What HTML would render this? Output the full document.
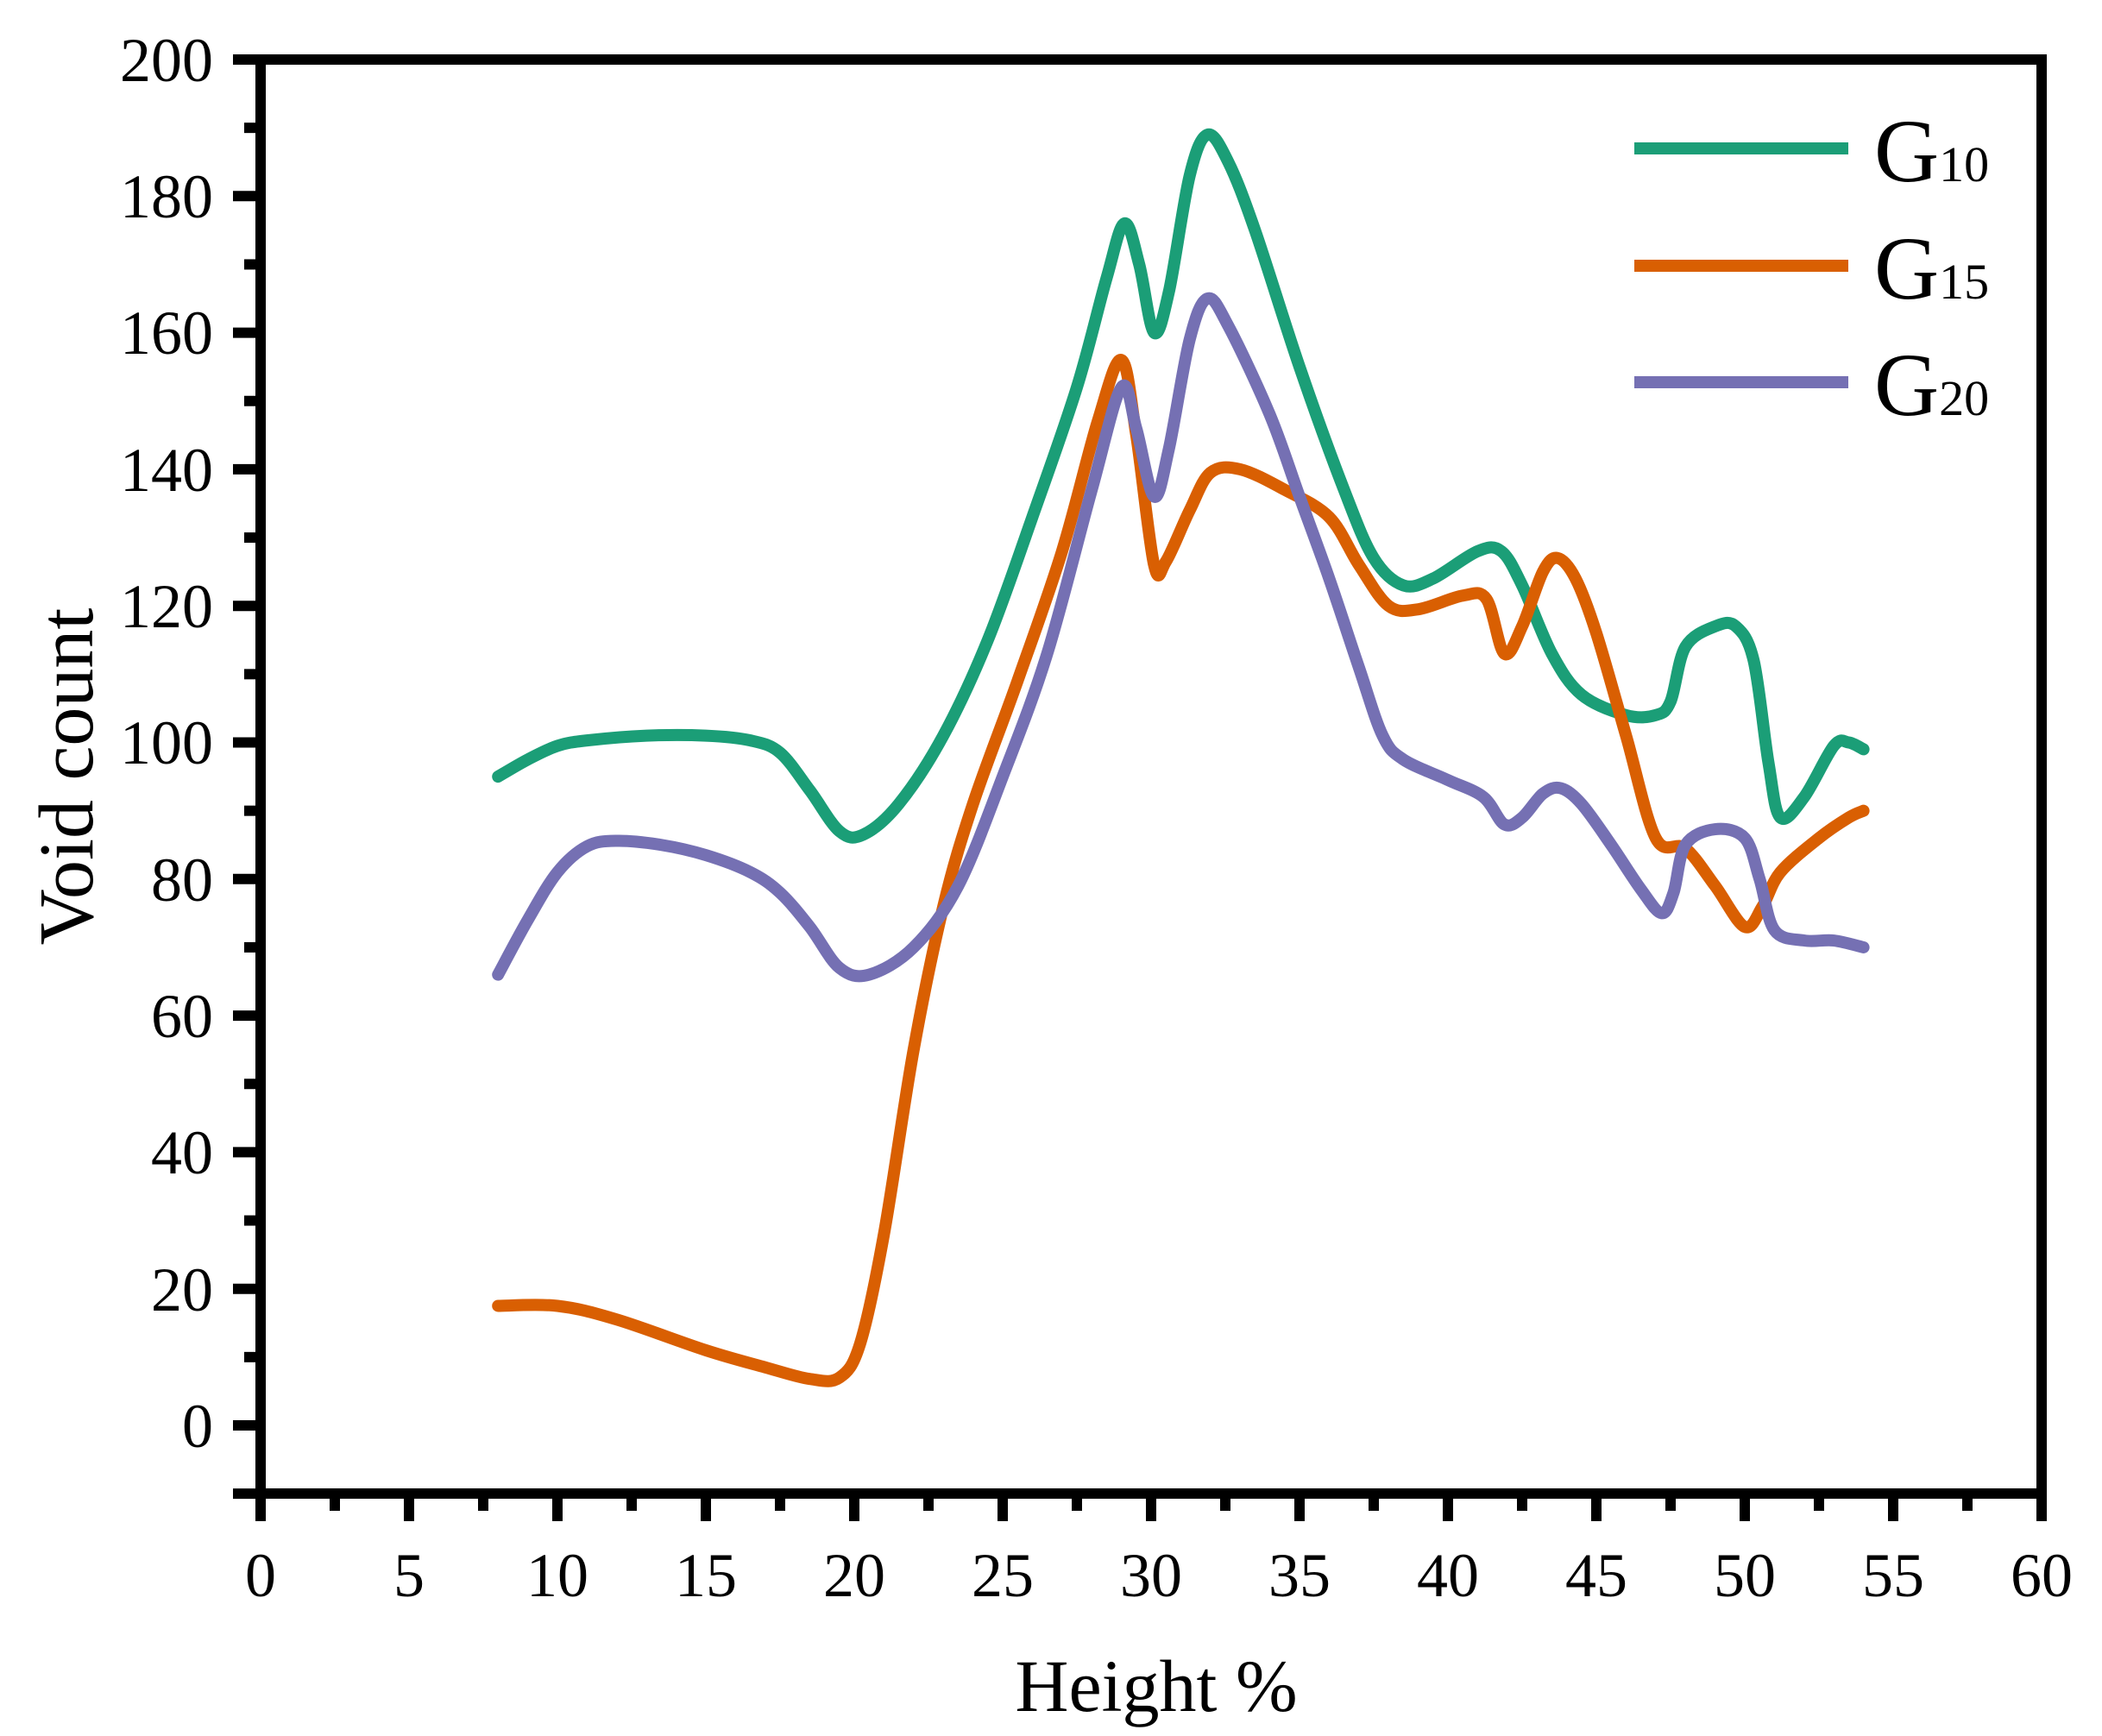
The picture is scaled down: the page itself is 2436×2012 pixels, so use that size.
<!DOCTYPE html>
<html><head><meta charset="utf-8"><style>
html,body{margin:0;padding:0;background:#fff;}
svg{display:block;}
text{font-family:"Liberation Serif","Times New Roman",serif;fill:#000;}
</style></head><body>
<svg id="s" width="2436" height="2012" viewBox="0 0 2436 2012" xmlns="http://www.w3.org/2000/svg">
<g id="curves" fill="none" stroke-width="14" stroke-linejoin="round" stroke-linecap="round"></g>
<g id="axes" stroke="#000" stroke-width="12" fill="none">
<rect x="302" y="69" width="2064" height="1662"/>
</g>
<g id="ticks" stroke="#000" stroke-width="12"></g>
<g font-size="72" text-anchor="end">
<text x="247" y="94">200</text>
<text x="247" y="252">180</text>
<text x="247" y="410">160</text>
<text x="247" y="569">140</text>
<text x="247" y="727">120</text>
<text x="247" y="885">100</text>
<text x="247" y="1044">80</text>
<text x="247" y="1202">60</text>
<text x="247" y="1360">40</text>
<text x="247" y="1519">20</text>
<text x="247" y="1677">0</text>
</g>
<g font-size="72" text-anchor="middle">
<text x="302" y="1850">0</text>
<text x="474" y="1850">5</text>
<text x="646" y="1850">10</text>
<text x="818" y="1850">15</text>
<text x="990" y="1850">20</text>
<text x="1162" y="1850">25</text>
<text x="1334" y="1850">30</text>
<text x="1506" y="1850">35</text>
<text x="1678" y="1850">40</text>
<text x="1850" y="1850">45</text>
<text x="2022" y="1850">50</text>
<text x="2194" y="1850">55</text>
<text x="2366" y="1850">60</text>
</g>
<text x="1340" y="1983" font-size="86" text-anchor="middle">Height %</text>
<text transform="translate(107,900) rotate(-90)" font-size="90" text-anchor="middle">Void count</text>
<g stroke-width="14">
<line x1="1894" y1="172" x2="2142" y2="172" stroke="#1b9e77"/>
<line x1="1894" y1="308" x2="2142" y2="308" stroke="#d95f02"/>
<line x1="1894" y1="443" x2="2142" y2="443" stroke="#7570b3"/>
</g>
<text x="2172" y="210" font-size="104">G<tspan font-size="58">10</tspan></text>
<text x="2172" y="346" font-size="104">G<tspan font-size="58">15</tspan></text>
<text x="2172" y="481" font-size="104">G<tspan font-size="58">20</tspan></text>
</svg>
<script>
var X=function(v){return 302+v*2064/60;},Y=function(v){return 1652-v*7.915;};
var ns="http://www.w3.org/2000/svg";
var t=document.getElementById('ticks');
function ln(x1,y1,x2,y2){var l=document.createElementNS(ns,'line');l.setAttribute('x1',x1);l.setAttribute('y1',y1);l.setAttribute('x2',x2);l.setAttribute('y2',y2);t.appendChild(l);}
for(var v=0;v<=200;v+=10){var y=Y(v);ln(296,y,v%20==0?270:283,y);}
ln(296,Y(-10),270,Y(-10));
for(var v=0;v<=60;v+=2.5){var x=X(v);ln(x,1737,x,(v%5==0)?1763:1751);}
var data={
"#1b9e77":[[8,95],[9,97.5],[10,99.5],[11,100.3],[13,101],[15,101],[16.5,100.3],[17.5,98.5],[18.5,93],[19.5,87],[20.3,86.5],[21.5,91],[23,101],[24.5,115],[26,133],[27.5,152],[28.5,168],[29.1,176],[29.6,170],[30.1,160],[30.6,166],[31.3,183],[31.9,189],[32.6,185],[33.5,175],[35,155],[36.5,137],[37.5,127],[38.5,123],[39.5,124],[41,128],[41.8,128],[42.5,123],[43.5,113],[44.5,107],[46,104],[47,104],[47.5,106],[48,114],[49,117],[49.7,117],[50.3,112],[50.8,97],[51.2,89],[52,92],[53,99.5],[53.5,100],[54,99]],
"#d95f02":[[8,17.5],[10,17.5],[12,15.5],[15,11],[17,8.5],[18.5,6.8],[19.5,7],[20.2,12],[21,28],[22,55],[23,76],[24,91],[25.5,109],[27,128],[28.2,147],[29,156],[29.5,145],[30.1,126],[30.5,126.5],[31.3,134],[32,139.5],[33,140],[34.5,137],[36,133],[37,126],[38,120],[39,119.5],[40.5,121.5],[41.3,121],[41.9,113],[42.5,117],[43.2,125],[43.7,127],[44.3,124],[45,116],[46,101],[47,86],[48,84.5],[49,79],[50,73],[50.6,76],[51.2,81],[52.5,86],[53.5,89],[54,90]],
"#7570b3":[[8,66],[9,74],[10,81],[11,84.8],[12,85.6],[13.5,85],[15,83.5],[16.5,81],[17.5,78],[18.5,73],[19.5,67],[20.5,66],[22,70],[23.5,79],[25,95],[26.5,113],[28,137],[29,152],[29.5,146],[30.1,136],[30.6,143],[31.3,159],[31.9,165],[32.6,161],[34,148],[35,136],[36,124],[37,111],[37.8,101],[38.5,97.5],[40,94.5],[41.2,92],[41.9,88],[42.5,89],[43.2,92.5],[43.8,93.3],[44.5,91],[45.5,85],[46.5,78.5],[47.2,75],[47.6,78],[48,85],[49,87.3],[50,86],[50.5,80],[51,72.5],[52,71],[53,71],[54,70]]
};
var g=document.getElementById('curves');
for(var c in data){var p=data[c].map(function(q){return [X(q[0]),Y(q[1])];});
var d="M"+p[0][0]+","+p[0][1];
for(var i=0;i<p.length-1;i++){var p0=p[i-1]||p[i],p1=p[i],p2=p[i+1],p3=p[i+2]||p2;
d+=" C"+(p1[0]+(p2[0]-p0[0])/6)+","+(p1[1]+(p2[1]-p0[1])/6)+" "+(p2[0]-(p3[0]-p1[0])/6)+","+(p2[1]-(p3[1]-p1[1])/6)+" "+p2[0]+","+p2[1];}
var e=document.createElementNS(ns,'path');e.setAttribute('d',d);e.setAttribute('stroke',c);g.appendChild(e);}
</script>
</body></html>
